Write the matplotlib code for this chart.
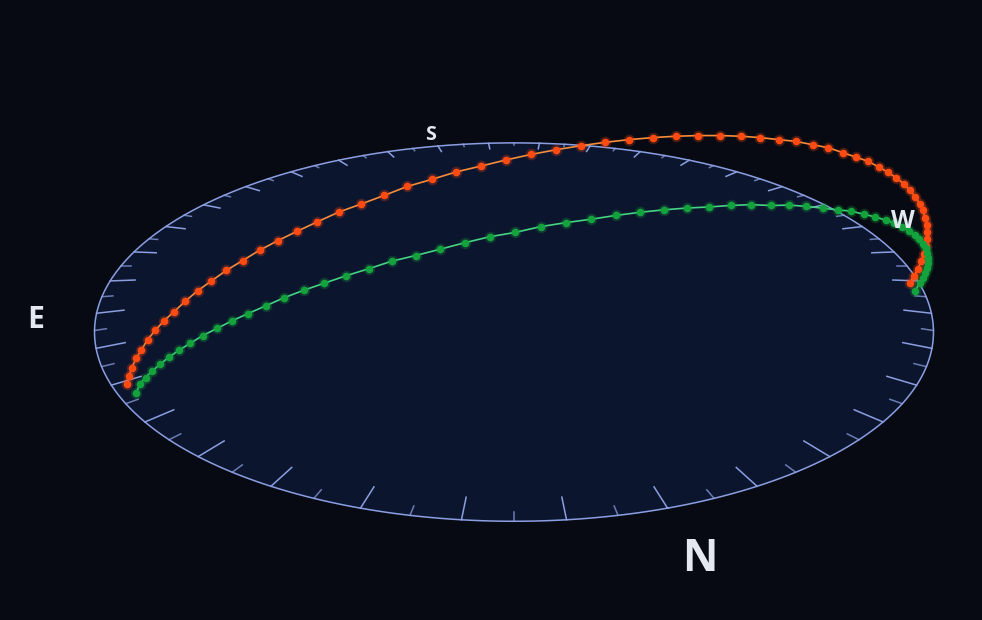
import numpy as np
import matplotlib.pyplot as plt

# sun positions every 10 minutes, azimuth from north (deg) and altitude (deg)
orange_az = [68.8, 67.2, 65.6, 64.0, 62.3, 60.7, 58.9, 57.2, 55.3, 53.5, 51.6,
             49.6, 47.6, 45.5, 43.4, 41.2, 39.0, 36.7, 34.3, 31.8, 29.3, 26.8,
             24.1, 21.4, 18.7, 15.9, 13.1, 10.2, 7.3, 4.4, 1.5,
             358.5, 355.6, 352.7, 349.8, 346.9, 344.1, 341.3, 338.6, 335.9,
             333.2, 330.7, 328.2, 325.7, 323.3, 321.0, 318.8, 316.6, 314.5,
             312.4, 310.4, 308.4, 306.5, 304.7, 302.8, 301.1, 299.3, 297.7,
             296.0, 294.4, 292.8, 291.2]
orange_alt = [0.2, 2.0, 3.8, 5.6, 7.3, 9.1, 10.8, 12.4, 14.0, 15.6, 17.2, 18.7,
              20.2, 21.6, 23.0, 24.3, 25.5, 26.7, 27.9, 28.9, 29.9, 30.9, 31.7,
              32.5, 33.1, 33.7, 34.2, 34.6, 34.9, 35.1, 35.2,
              35.2, 35.1, 34.9, 34.6, 34.2, 33.7, 33.1, 32.5, 31.7, 30.9, 29.9,
              28.9, 27.9, 26.7, 25.5, 24.3, 23.0, 21.6, 20.2, 18.7, 17.2, 15.6,
              14.0, 12.4, 10.8, 9.1, 7.3, 5.6, 3.8, 2.0, 0.2]
green_az = [65.4, 63.6, 61.7, 59.9, 58.0, 56.1, 54.2, 52.2, 50.2, 48.1, 46.0,
            43.9, 41.7, 39.5, 37.2, 34.9, 32.5, 30.1, 27.7, 25.2, 22.7, 20.1,
            17.5, 14.9, 12.2, 9.5, 6.8, 4.1, 1.4,
            358.6, 355.9, 353.2, 350.5, 347.8, 345.1, 342.5, 339.9, 337.3,
            334.8, 332.3, 329.9, 327.5, 325.1, 322.8, 320.5, 318.3, 316.1,
            314.0, 311.9, 309.8, 307.8, 305.8, 303.9, 302.0, 300.1, 298.3,
            296.4, 294.6]
green_alt = [0.6, 2.6, 4.2, 5.7, 7.2, 8.7, 10.1, 11.5, 12.9, 14.2, 15.5, 16.7,
             17.9, 19.1, 20.2, 21.2, 22.2, 23.1, 24.0, 24.7, 25.4, 26.1, 26.7,
             27.1, 27.6, 27.9, 28.1, 28.3, 28.4,
             28.4, 28.3, 28.1, 27.9, 27.6, 27.1, 26.7, 26.1, 25.4, 24.7, 24.0,
             23.1, 22.2, 21.2, 20.2, 19.1, 17.9, 16.7, 15.5, 14.2, 12.9, 11.5,
             10.1, 8.7, 7.2, 5.7, 4.2, 2.6, 0.6]

compass = ['N', 'E', 'S', 'W']
compass_az = [0, 90, 180, 270]

# camera looking down on the horizon disc (radius 1)
CX, CY = 514, 266
FOCAL = 1020.0
DIST = 2.595
ELEV = np.radians(25.0)
NORTH_ROT = 15.0
SUN_R = 0.975
DOME_H = 1.043


def ground(az, r=1.0):
    th = np.radians(-90.0 + NORTH_ROT - np.asarray(az, dtype=float))
    return r * np.cos(th), r * np.sin(th)


def project(x, y, z=0.0):
    a, s = np.cos(ELEV), np.sin(ELEV)
    depth = DIST + a * y - s * z
    return CX + FOCAL * x / depth, CY - FOCAL * (s * y + a * z) / depth, depth


def sky(az, alt):
    alt = np.radians(np.asarray(alt, dtype=float))
    x, y = ground(az, SUN_R * np.cos(alt))
    return project(x, y, DOME_H * SUN_R * np.sin(alt))


fig = plt.figure(figsize=(9.82, 6.2), dpi=100)
fig.patch.set_facecolor('#070a13')
ax = fig.add_axes([0, 0, 1, 1])
ax.set_xlim(0, 982)
ax.set_ylim(620, 0)
ax.axis('off')

rim = np.linspace(0, 360, 361)
rx, ry, _ = project(*ground(rim))
ax.fill(rx, ry, color='#0c152e', zorder=1)
ax.plot(rx, ry, color='#8b9ee0', lw=1.1, zorder=3)

for t in range(0, 360, 5):
    length = 0.06 if t % 10 == 0 else 0.025
    x0, y0, _ = project(*ground(t, 1.0))
    x1, y1, _ = project(*ground(t, 1.0 - length))
    ax.plot([x0, x1], [y0, y1], color='#8b9ee0', lw=1.1,
            alpha=1.0 if t % 10 == 0 else 0.75, zorder=2)

for az, alt, line_c, dot_c in [(orange_az, orange_alt, '#f58d3c', '#ff4a12'),
                               (green_az, green_alt, '#45d483', '#14a23c')]:
    px, py, _ = sky(az, alt)
    ax.plot(px, py, color=line_c, lw=1.2, zorder=4)
    ax.scatter(px, py, s=70, color=dot_c, alpha=0.25, linewidths=0, zorder=5)
    ax.scatter(px, py, s=30, color=dot_c, linewidths=0, zorder=6)

for lab, az in zip(compass, compass_az):
    lx, ly, d = project(*ground(az, 1.13))
    ax.text(lx, ly, lab, color='#e4e8f0', fontsize=50.6 / d,
            fontweight='bold', family=['Open Sans', 'DejaVu Sans'],
            ha='center', va='center', zorder=7)

fig.savefig('out.png', dpi=100, facecolor=fig.get_facecolor())
